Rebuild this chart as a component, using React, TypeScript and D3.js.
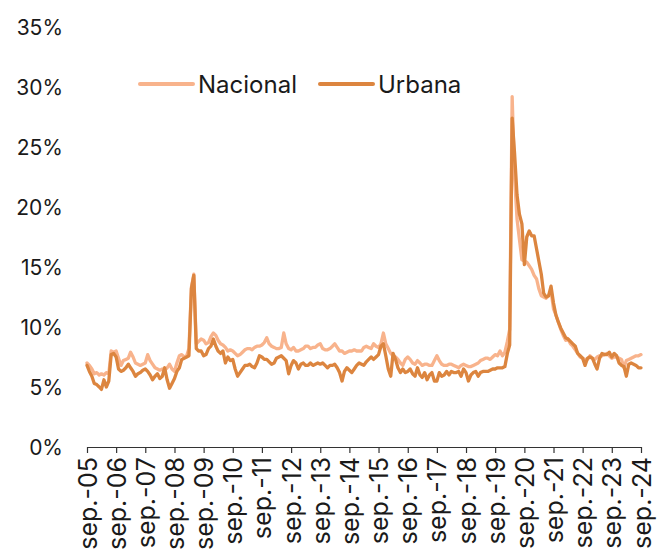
import { useEffect, useRef } from "react";
import * as d3 from "d3";

// monthly rate (%), sep-05 .. sep-24
const NACIONAL = [
  7.0, 6.8, 6.5, 6.1, 6.2, 6.0, 6.1, 6.0, 6.2, 6.1, 8.0, 7.9,
  8.0, 7.4, 6.8, 7.2, 7.3, 7.4, 7.9, 7.5, 7.0, 6.9, 6.8, 6.9,
  7.0, 7.7, 7.2, 6.9, 6.6, 6.5, 6.4, 6.5, 6.4, 6.6, 6.9, 6.5,
  6.3, 7.0, 7.6, 7.7, 7.5, 7.6, 8.2, 13.3, 14.4, 8.6, 8.8, 9.0,
  8.9, 8.6, 8.7, 9.2, 9.5, 9.3, 8.9, 8.6, 8.5, 8.3, 8.0, 8.1,
  8.0, 7.8, 7.6, 7.7, 7.9, 8.1, 8.2, 8.2, 8.1, 8.3, 8.4, 8.4,
  8.5, 8.7, 9.1, 8.6, 8.4, 8.3, 8.2, 8.2, 8.3, 9.5, 8.6, 8.2,
  8.1, 8.3, 8.0, 8.0, 8.1, 8.2, 8.4, 8.4, 8.2, 8.3, 8.3, 8.5,
  8.6, 8.2, 8.1, 8.1, 8.2, 8.4, 8.6, 8.3, 8.0, 8.0, 7.8, 7.9,
  8.0, 8.0, 8.1, 8.0, 8.0, 8.0, 8.3, 8.4, 8.3, 8.2, 8.6, 8.4,
  8.3, 8.6, 9.5, 8.6, 8.2, 7.8, 7.6, 7.5, 7.3, 7.0, 6.8, 7.3,
  7.5, 7.3, 7.0, 6.9, 7.2, 7.0, 6.8, 6.9, 6.9, 6.8, 6.8, 7.2,
  7.6, 7.2, 6.9, 6.8, 6.8, 6.9, 6.9, 6.8, 6.7, 6.6, 6.8, 6.9,
  6.8, 6.7, 6.7, 6.8, 6.9, 7.0, 7.2, 7.3, 7.4, 7.4, 7.3, 7.5,
  7.7, 7.6, 8.0, 7.6, 7.9, 8.8, 9.8, 29.2, 22.5, 19.0, 17.3, 15.6,
  15.5, 15.4, 15.1, 14.8, 14.3, 14.0, 13.2, 12.6, 12.5, 12.4, 12.6, 13.0,
  11.5, 11.0, 10.4, 9.8, 9.3, 8.9, 9.0, 8.6, 8.4, 8.1, 7.8, 7.5,
  7.4, 7.3, 7.3, 7.6, 7.4, 7.3, 7.5, 7.6, 7.6, 7.7, 7.8, 7.6,
  7.4, 7.5, 7.5, 7.4, 7.3, 6.6, 7.2, 7.3, 7.4, 7.5, 7.6, 7.6,
  7.7,
];

const URBANA = [
  6.8, 6.3, 5.9, 5.3, 5.2, 5.0, 4.8, 5.6, 5.0, 5.5, 7.7, 7.8,
  7.5, 6.5, 6.3, 6.4, 6.6, 6.9, 6.6, 6.3, 5.9, 6.1, 6.2, 6.4,
  6.5, 6.3, 6.0, 5.6, 5.9, 6.1, 5.7, 5.9, 6.6, 5.6, 4.9, 5.3,
  5.7, 6.3, 6.6, 7.3, 7.4, 7.5, 7.6, 13.2, 14.3, 8.2, 8.0, 8.0,
  7.6, 7.7, 8.2, 8.4, 9.0, 8.4, 8.0, 7.8, 8.0, 7.0, 7.5, 7.2,
  7.3, 6.5, 5.9, 6.2, 6.5, 6.8, 6.8, 6.9, 6.7, 6.6, 7.0, 7.6,
  7.5, 7.3, 7.3, 7.1, 6.9, 7.0, 7.4, 7.5, 7.6, 7.4, 7.2, 6.1,
  6.8, 7.2, 7.0, 6.5, 6.9, 7.0, 6.8, 6.8, 7.0, 6.8, 6.9, 7.0,
  6.9, 7.0, 6.8, 6.6, 6.8, 6.8, 6.9, 6.6, 6.2, 5.5, 6.3, 6.6,
  6.4, 6.2, 6.5, 6.8, 7.0, 6.9, 6.8, 7.1, 7.3, 7.5, 7.3, 7.5,
  7.7, 8.4, 8.6, 7.6, 6.5, 5.9, 7.8, 7.3, 6.6, 6.2, 6.5, 6.2,
  6.3, 6.5, 6.1, 5.9, 6.6, 6.0, 5.8, 6.2, 5.6, 6.0, 6.2, 5.5,
  5.5, 6.2, 5.9, 6.0, 6.3, 6.0, 6.3, 6.2, 6.2, 6.3, 5.9, 6.5,
  6.2, 5.5, 6.0, 6.2, 6.3, 5.9, 6.2, 6.3, 6.3, 6.3, 6.4, 6.5,
  6.5, 6.6, 6.6, 6.6, 6.7, 7.8, 8.5, 27.4, 24.5, 21.0, 19.4, 18.6,
  15.2, 17.5, 18.0, 17.6, 17.6, 16.5, 15.5, 14.4, 12.8, 12.5, 12.6, 13.4,
  12.0, 11.0, 10.4, 9.9, 9.5, 9.1, 9.0, 8.8, 8.6, 8.4, 7.8, 7.6,
  7.4, 6.8, 7.4, 7.5, 7.4, 6.9, 6.5, 7.4, 7.8, 7.7, 7.7, 7.9,
  7.5, 7.8, 7.6, 7.0, 6.8, 6.7, 5.9, 6.9, 7.0, 6.9, 6.8, 6.6,
  6.6,
];

const X_LABELS = [
  "sep.-05", "sep.-06", "sep.-07", "sep.-08", "sep.-09", "sep.-10", "sep.-11",
  "sep.-12", "sep.-13", "sep.-14", "sep.-15", "sep.-16", "sep.-17", "sep.-18",
  "sep.-19", "sep.-20", "sep.-21", "sep.-22", "sep.-23", "sep.-24",
];

const Y_TICKS = [0, 5, 10, 15, 20, 25, 30, 35];

const SERIES = [
  { name: "Nacional", values: NACIONAL, color: "#F8B38C" },
  { name: "Urbana", values: URBANA, color: "#DC853F" },
];

const WIDTH = 663;
const HEIGHT = 552;
const FONT = "Inter, 'DejaVu Sans', sans-serif";
const START = new Date(2005, 8, 1);

export default function App() {
  const svgRef = useRef<SVGSVGElement>(null);

  useEffect(() => {
    if (!svgRef.current) return;
    const svg = d3.select(svgRef.current);
    svg.selectAll("*").remove();

    const x = d3.scaleTime()
      .domain([START, d3.timeMonth.offset(START, 12 * (X_LABELS.length - 1))])
      .range([87, 641]);
    const y = d3.scaleLinear().domain([0, 35]).range([447, 27]);

    // y labels (no axis line)
    svg.append("g")
      .selectAll("text")
      .data(Y_TICKS)
      .join("text")
      .attr("x", 63)
      .attr("y", (d) => y(d))
      .attr("dy", "0.36em")
      .attr("text-anchor", "end")
      .attr("font-family", FONT)
      .attr("font-size", 21)
      .attr("fill", "#1a1a1a")
      .text((d) => `${d}%`);

    // lines
    SERIES.forEach((s) => {
      const line = d3.line<number>()
        .x((_, i) => x(d3.timeMonth.offset(START, i)))
        .y((d) => y(d));
      svg.append("path")
        .datum(s.values)
        .attr("d", line)
        .attr("fill", "none")
        .attr("stroke", s.color)
        .attr("stroke-width", 3.3)
        .attr("stroke-linejoin", "round")
        .attr("stroke-linecap", "round");
    });

    // x axis
    const tickDates = X_LABELS.map((_, i) => d3.timeMonth.offset(START, 12 * i));
    const xAxis = svg.append("g")
      .attr("transform", `translate(0,${y(0)})`)
      .call(
        d3.axisBottom(x)
          .tickValues(tickDates)
          .tickSize(6)
          .tickSizeOuter(0)
          .tickFormat((_, i) => X_LABELS[i])
      );
    xAxis.select(".domain").attr("stroke", "#333").attr("stroke-width", 1.2);
    xAxis.selectAll(".tick line").attr("stroke", "#333").attr("stroke-width", 1.2);
    xAxis.selectAll(".tick text")
      .attr("transform", "rotate(-90)")
      .attr("x", -10)
      .attr("y", 0)
      .attr("dy", "0.36em")
      .attr("text-anchor", "end")
      .attr("font-family", FONT)
      .attr("font-size", 25)
      .attr("fill", "#1a1a1a");

    // legend
    const legendX = [140, 320];
    SERIES.forEach((s, i) => {
      const lg = svg.append("g").attr("transform", `translate(${legendX[i]},84)`);
      lg.append("line")
        .attr("x1", 0).attr("x2", 53)
        .attr("stroke", s.color)
        .attr("stroke-width", 4)
        .attr("stroke-linecap", "round");
      lg.append("text")
        .attr("x", 58)
        .attr("dy", "0.36em")
        .attr("font-family", FONT)
        .attr("font-size", 24)
        .attr("fill", "#1a1a1a")
        .text(s.name);
    });
  }, []);

  return (
    <svg
      ref={svgRef}
      width={WIDTH}
      height={HEIGHT}
      style={{ position: "absolute", left: 0, top: 0, background: "#fff" }}
    />
  );
}
